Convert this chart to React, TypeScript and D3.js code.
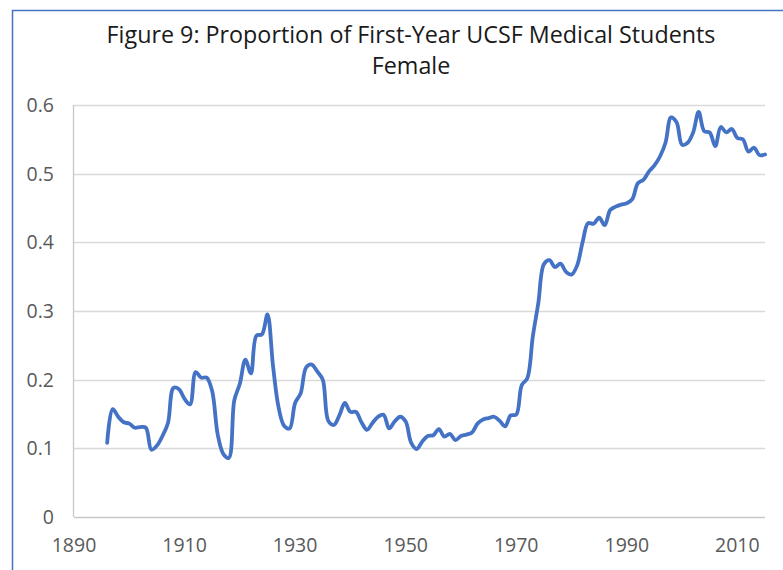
import React, { useRef, useEffect } from 'react';
import * as d3 from 'd3';

const startYear = 1896;
// proportion female, one value per year from 1896 to 2015
const proportion = [
  0.108, 0.157, 0.146, 0.138, 0.136, 0.130, 0.131, 0.130, 0.098, 0.104,
  0.118, 0.137, 0.188, 0.186, 0.172, 0.164, 0.211, 0.203, 0.203, 0.183,
  0.120, 0.092, 0.086, 0.170, 0.194, 0.229, 0.209, 0.264, 0.266, 0.295,
  0.220, 0.160, 0.133, 0.129, 0.166, 0.180, 0.218, 0.222, 0.212, 0.200,
  0.140, 0.134, 0.148, 0.166, 0.153, 0.153, 0.138, 0.127, 0.137, 0.146,
  0.149, 0.129, 0.139, 0.146, 0.139, 0.108, 0.099, 0.110, 0.118, 0.119,
  0.128, 0.117, 0.121, 0.112, 0.118, 0.120, 0.123, 0.136, 0.142, 0.144,
  0.146, 0.140, 0.132, 0.148, 0.149, 0.192, 0.202, 0.263, 0.312, 0.368,
  0.374, 0.364, 0.369, 0.357, 0.353, 0.366, 0.400, 0.428, 0.427, 0.436,
  0.425, 0.447, 0.452, 0.455, 0.457, 0.463, 0.486, 0.491, 0.503, 0.512,
  0.525, 0.545, 0.582, 0.575, 0.542, 0.545, 0.560, 0.590, 0.562, 0.560,
  0.540, 0.568, 0.560, 0.565, 0.552, 0.550, 0.532, 0.538, 0.527, 0.528,
];
const xTicks = [1890, 1910, 1930, 1950, 1970, 1990, 2010];
const yTicks = [0, 0.1, 0.2, 0.3, 0.4, 0.5, 0.6];
const titleLines = ['Figure 9: Proportion of First-Year UCSF Medical Students', 'Female'];

const FONT = '"Open Sans", "Noto Sans", sans-serif';

const Chart: React.FC = () => {
  const svgRef = useRef<SVGSVGElement | null>(null);

  useEffect(() => {
    const width = 783;
    const height = 570;
    const svg = d3.select(svgRef.current).attr('width', width).attr('height', height);
    svg.selectAll('*').remove();

    const x = d3.scaleLinear().domain([1890, 2015]).range([74, 765]);
    const y = d3.scaleLinear().domain([0, 0.6]).range([517, 105]);

    svg.append('rect').attr('width', width).attr('height', height).attr('fill', '#fff');

    // frame of the chart object (only top and left visible)
    svg
      .append('rect')
      .attr('x', 12.5)
      .attr('y', 10.5)
      .attr('width', 900)
      .attr('height', 700)
      .attr('fill', 'none')
      .attr('stroke', '#4472C4')
      .attr('stroke-width', 1.5);

    svg
      .append('text')
      .attr('text-anchor', 'middle')
      .attr('font-family', FONT)
      .attr('font-size', 23.3)
      .attr('fill', '#1a1a1a')
      .selectAll('tspan')
      .data(titleLines)
      .enter()
      .append('tspan')
      .attr('x', 411)
      .attr('y', (d, i) => 43 + i * 31)
      .text(d => d);

    // gridlines
    svg
      .append('g')
      .selectAll('line')
      .data(yTicks.slice(1))
      .enter()
      .append('line')
      .attr('x1', x(1890))
      .attr('x2', x(2015))
      .attr('y1', d => Math.round(y(d)) + 0.5)
      .attr('y2', d => Math.round(y(d)) + 0.5)
      .attr('stroke', '#d9d9d9')
      .attr('stroke-width', 1.3);

    // axes lines
    svg
      .append('line')
      .attr('x1', x(1890))
      .attr('x2', x(2015))
      .attr('y1', Math.round(y(0)) + 0.5)
      .attr('y2', Math.round(y(0)) + 0.5)
      .attr('stroke', '#c8c8c8')
      .attr('stroke-width', 1.3);
    svg
      .append('line')
      .attr('x1', Math.round(x(1890)) - 0.5)
      .attr('x2', Math.round(x(1890)) - 0.5)
      .attr('y1', y(0.6))
      .attr('y2', y(0))
      .attr('stroke', '#c8c8c8')
      .attr('stroke-width', 1.3);

    svg
      .append('g')
      .selectAll('text')
      .data(yTicks)
      .enter()
      .append('text')
      .attr('x', 54)
      .attr('y', d => y(d) + 7)
      .attr('text-anchor', 'end')
      .attr('font-family', FONT)
      .attr('font-size', 19.5)
      .attr('fill', '#595959')
      .text(d => (d === 0 ? '0' : d.toFixed(1)));

    svg
      .append('g')
      .selectAll('text')
      .data(xTicks)
      .enter()
      .append('text')
      .attr('x', d => x(d))
      .attr('y', 552)
      .attr('text-anchor', 'middle')
      .attr('font-family', FONT)
      .attr('font-size', 19.5)
      .attr('fill', '#595959')
      .text(d => String(d));

    const line = d3
      .line<number>()
      .x((d, i) => x(startYear + i))
      .y(d => y(d))
      .curve(d3.curveCatmullRom.alpha(0.5));

    svg
      .append('path')
      .datum(proportion)
      .attr('d', line)
      .attr('fill', 'none')
      .attr('stroke', '#4472C4')
      .attr('stroke-width', 3.8)
      .attr('stroke-linejoin', 'round')
      .attr('stroke-linecap', 'round');
  }, []);

  return <svg ref={svgRef} style={{ position: 'absolute', left: 0, top: 0, display: 'block' }}></svg>;
};

export default function App() {
  return <Chart />;
}
